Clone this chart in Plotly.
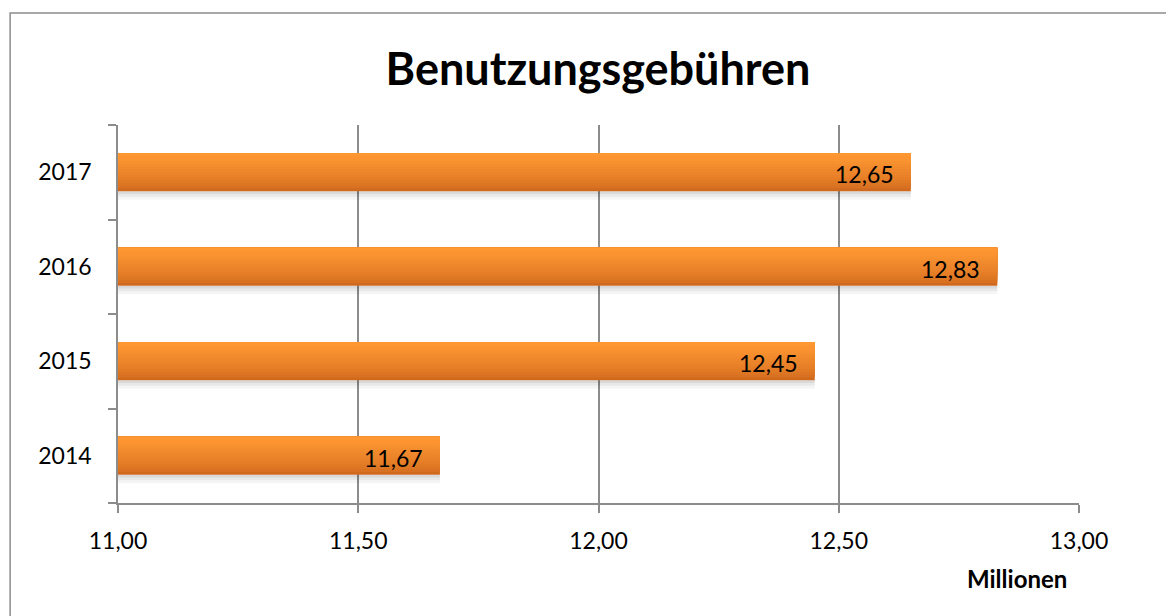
import plotly.graph_objects as go

# ── Data ──────────────────────────────────────────────────────────────────────
years = ["2014", "2015", "2016", "2017"]
values = [11.67, 12.45, 12.83, 12.65]
labels = ["11,67", "12,45", "12,83", "12,65"]

TITLE = "Benutzungsgebühren"
X_TITLE = "Millionen"

FONT = "Lato, 'Open Sans', sans-serif"
GRID = "#8c8c8c"

BAR_W = 0.40
N_STEPS = 14
TOP_RGB = (255, 152, 50)
BOT_RGB = (208, 105, 30)


def _mix(a, b, t):
    return "rgb(%d,%d,%d)" % tuple(round(a[i] + (b[i] - a[i]) * t) for i in range(3))


fig = go.Figure()

# soft shadow under each bar
for k, alpha in enumerate([0.15, 0.09, 0.04]):
    fig.add_trace(go.Bar(
        y=years, x=values, orientation="h",
        width=0.03, offset=-BAR_W / 2 - 0.03 * (k + 1),
        marker=dict(color=f"rgba(0,0,0,{alpha})", line=dict(width=0)),
        hoverinfo="skip", showlegend=False,
    ))

# gradient: full dark bar first, then ever thinner lighter bars anchored at the top
step = BAR_W / N_STEPS
for i in range(N_STEPS):
    t = i / (N_STEPS - 1)
    col = _mix(BOT_RGB, TOP_RGB, min(1.0, t ** 0.7))
    w = BAR_W - i * step
    fig.add_trace(go.Bar(
        y=years, x=values, orientation="h",
        width=w, offset=BAR_W / 2 - w,
        marker=dict(color=col, line=dict(width=0)),
        hoverinfo="skip", showlegend=False,
    ))

# value labels (category index positions)
for idx, (v, lab) in enumerate(zip(values, labels)):
    fig.add_annotation(
        x=v, y=idx, xref="x", yref="y", text=lab, showarrow=False,
        xanchor="right", yanchor="middle", xshift=-15, yshift=-2,
        font=dict(family=FONT, size=23, color="#000000"),
    )

fig.add_annotation(
    text=f"<b>{X_TITLE}</b>", xref="paper", yref="paper",
    x=1.0, y=-0.20, xanchor="right", yanchor="middle",
    xshift=-10, showarrow=False,
    font=dict(family=FONT, size=24, color="#000000"),
)

fig.update_layout(
    width=1166, height=608,
    barmode="overlay",
    separators=",.",
    paper_bgcolor="#ffffff",
    plot_bgcolor="#ffffff",
    margin=dict(l=110, r=95, t=117, b=113),
    font=dict(family=FONT, color="#000000"),
    title=dict(
        text=f"<b>{TITLE}</b>", x=0.506, xanchor="center",
        y=0.9, yanchor="middle",
        font=dict(family=FONT, size=45, color="#000000"),
    ),
    xaxis=dict(
        range=[11, 13], dtick=0.5, tick0=11, tickformat=".2f",
        showgrid=True, gridcolor=GRID, gridwidth=1.5,
        showline=True, linecolor=GRID, linewidth=1.5,
        ticks="outside", ticklen=8, tickcolor=GRID, tickwidth=1.5,
        ticklabelstandoff=9,
        tickfont=dict(family=FONT, size=23, color="#000000"),
        zeroline=False, fixedrange=True,
    ),
    yaxis=dict(
        type="category", categoryorder="array", categoryarray=years,
        range=[-0.5, 3.5],
        showgrid=False, showline=True, linecolor=GRID, linewidth=1.5,
        ticks="outside", tickson="boundaries", ticklen=8,
        tickcolor=GRID, tickwidth=1.5, ticklabelstandoff=20,
        tickfont=dict(family=FONT, size=23, color="#000000"),
        fixedrange=True,
    ),
    shapes=[
        dict(
            type="rect", xref="paper", yref="paper",
            x0=-108 / 962, x1=1.2, y0=-0.5, y1=1 + 112 / 378,
            line=dict(color="#8c8c8c", width=1.5), fillcolor="rgba(0,0,0,0)",
            layer="below",
        )
    ],
)

fig.write_html("out.html")
